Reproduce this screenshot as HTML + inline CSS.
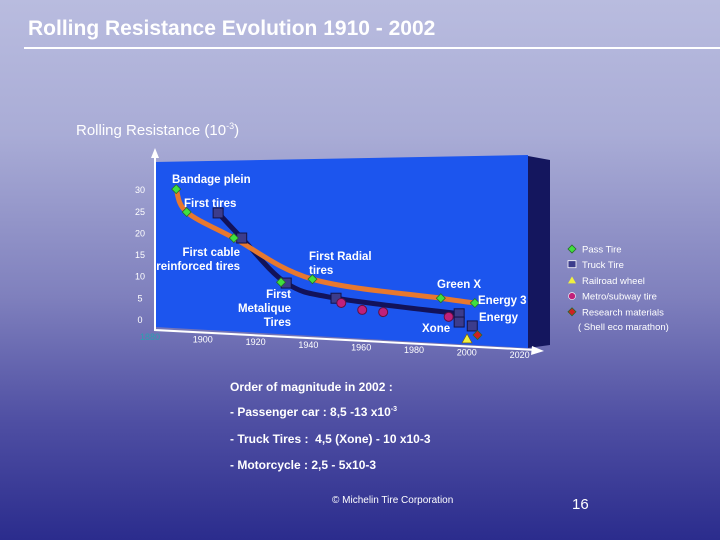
<!DOCTYPE html>
<html><head><meta charset="utf-8">
<style>
body{margin:0;}
#slide{position:relative;width:720px;height:540px;overflow:hidden;font-family:"Liberation Sans",sans-serif;color:#fff;
background:linear-gradient(180deg,#b9bcdf 0%,#a9acd6 25%,#7f80bd 55%,#4f4fa3 78%,#2b2c8d 100%);}
.t{position:absolute;white-space:nowrap;}
</style></head><body>
<div id="slide">
<div class="t" style="left:28px;top:17px;font-size:21px;font-weight:bold;">Rolling Resistance Evolution 1910 - 2002</div>
<div style="position:absolute;left:24px;top:47px;width:696px;height:2px;background:#fff;"></div>
<div class="t" style="left:76px;top:121px;font-size:15px;">Rolling Resistance (10<sup style="font-size:9px">-3</sup>)</div>
<svg id="chart" width="720" height="540" style="position:absolute;left:0;top:0"></svg>
<div class="t" style="left:230px;top:380px;font-size:12px;font-weight:bold;">Order of magnitude in 2002 :</div>
<div class="t" style="left:230px;top:405px;font-size:12px;font-weight:bold;">- Passenger car : 8,5 -13 x10<sup style="font-size:7px">-3</sup></div>
<div class="t" style="left:230px;top:432px;font-size:12px;font-weight:bold;">- Truck Tires :&nbsp; 4,5 (Xone) - 10 x10-3</div>
<div class="t" style="left:230px;top:458px;font-size:12px;font-weight:bold;">- Motorcycle : 2,5 - 5x10-3</div>
<div class="t" style="left:332px;top:495px;font-size:10px;">© Michelin Tire Corporation</div>
<div class="t" style="left:572px;top:496px;font-size:15px;">16</div>
</div>
<script>
const yTicks=[0,5,10,15,20,25,30];
const xTicks=[1880,1900,1920,1940,1960,1980,2000,2020];
const passYears=[1890,1894,1912,1930,1942,1991,2004];
const passVals=[30,24.7,18.7,8.5,9.2,4.8,3.7];
const passLineYears=[1890,1894,1912,1942,1991,2004];
const passLineVals=[30,24.7,18.7,9.2,4.8,3.7];
const truckYears=[1906,1915,1932,1951,1998,1998,2003];
const truckVals=[24.5,18.7,8.3,4.8,1.2,-0.7,-1.6];
const truckLineYears=[1906,1915,1932,1951,1998];
const truckLineVals=[24.5,18.7,8.3,4.8,1.2];
const metroYears=[1953,1961,1969,1994];
const metroVals=[3.7,2.1,1.6,0.5];
const railYears=[2001];const railVals=[-4.6];
const researchYears=[2005];const researchVals=[-3.7];

const NS="http://www.w3.org/2000/svg";
const svg=document.getElementById('chart');
function X(yr){return 150+(yr-1880)*2.62;}
function Y(v){return 319-v*4.33;}
function mk(tag,attrs,parent){const e=document.createElementNS(NS,tag);for(const k in attrs)e.setAttribute(k,attrs[k]);(parent||svg).appendChild(e);return e;}
let e=mk('polygon',{points:'528,156 550,160 550,345 528,348',fill:'#14165e'});

e=mk('polygon',{points:'155,162 528,155 528,348 155,327',fill:'#1c55ee'});

e=mk('polyline',{points:'155,152 155,330 536,350',fill:'none',stroke:'#fff','stroke-width':2});

e=mk('polygon',{points:'151,158 155,148 159,158',fill:'#fff'});

e=mk('polygon',{points:'532,346 544,351 531,355',fill:'#fff'});

yTicks.forEach(v=>{const t=mk('text',{x:140,y:Y(v)+4,'font-size':9,fill:'#fff','text-anchor':'middle'});t.textContent=v;
});
xTicks.forEach((yr,i)=>{const x=X(yr)+(yr-1880)*0.02;const t=mk('text',{x:x,y:340+(yr-1880)*0.13,'font-size':9,fill:i==0?'#2aa0b0':'#fff','text-anchor':'middle'});t.textContent=yr;
});
function smooth(xs,vs){const p=xs.map((yr,i)=>[X(yr),Y(vs[i])]);let d='M'+p[0][0]+','+p[0][1];
for(let i=0;i<p.length-1;i++){const p0=p[i-1]||p[i],p1=p[i],p2=p[i+1],p3=p[i+2]||p2;
d+=' C'+(p1[0]+(p2[0]-p0[0])/6)+','+(p1[1]+(p2[1]-p0[1])/6)+' '+(p2[0]-(p3[0]-p1[0])/6)+','+(p2[1]-(p3[1]-p1[1])/6)+' '+p2[0]+','+p2[1];}return d;}
e=mk('path',{d:smooth(truckLineYears,truckLineVals),fill:'none',stroke:'#12125a','stroke-width':5,'stroke-linecap':'round'});

e=mk('path',{d:smooth(passLineYears,passLineVals),fill:'none',stroke:'#e8782e','stroke-width':5,'stroke-linecap':'round'});

function diamond(x,y,r,fill){return mk('polygon',{points:`${x},${y-r} ${x+r},${y} ${x},${y+r} ${x-r},${y}`,fill:fill,stroke:'#2a6a2a','stroke-width':0.8});}
truckYears.forEach((yr,i)=>{const x=X(yr),y=Y(truckVals[i]);const m=mk('rect',{x:x-5,y:y-5,width:10,height:10,fill:'#3c3c8c',stroke:'#12124a','stroke-width':1});
});
passYears.forEach((yr,i)=>{const m=diamond(X(yr),Y(passVals[i]),4.5,'#3fe03f');
});
metroYears.forEach((yr,i)=>{const m=mk('circle',{cx:X(yr),cy:Y(metroVals[i]),r:4.5,fill:'#c0207a',stroke:'#601040'});
});
railYears.forEach((yr,i)=>{const x=X(yr),y=Y(railVals[i]);const m=mk('polygon',{points:`${x},${y-5} ${x+5},${y+4} ${x-5},${y+4}`,fill:'#f0f040',stroke:'#806000','stroke-width':0.6});
});
researchYears.forEach((yr,i)=>{const m=diamond(X(yr),Y(researchVals[i]),4.5,'#d02020');
});
const ann=[['Bandage plein',172,183,'start'],['First tires',184,207,'start'],['First cable',240,256,'end'],['reinforced tires',240,270,'end'],
['First Radial',309,260,'start'],['tires',309,274,'start'],['First',291,298,'end'],['Metalique',291,312,'end'],['Tires',291,326,'end'],
['Green X',437,288,'start'],['Energy 3',478,304,'start'],['Energy',479,321,'start'],['Xone',422,332,'start']];
ann.forEach(a=>{const t=mk('text',{x:a[1],y:a[2],'font-size':11.5,'font-weight':'bold',fill:'#fff','text-anchor':a[3]});t.textContent=a[0];
});
const leg=[['Pass Tire','d','#3fe03f'],['Truck Tire','s','#3c3c8c'],['Railroad wheel','t','#f0f040'],['Metro/subway tire','c','#c0207a'],['Research materials','d','#d02020']];
leg.forEach((l,i)=>{const y=249+i*15.7;let m;
if(l[1]=='d')m=diamond(572,y,4,l[2]);else if(l[1]=='s')m=mk('rect',{x:568,y:y-4,width:8,height:7,fill:l[2],stroke:'#fff','stroke-width':0.8});
else if(l[1]=='t')m=mk('polygon',{points:`572,${y-4} 576,${y+3} 568,${y+3}`,fill:l[2]});else m=mk('circle',{cx:572,cy:y,r:3.5,fill:l[2],stroke:'#fff','stroke-width':0.6});

const t=mk('text',{x:582,y:y+3.5,'font-size':9.5,fill:'#fff'});t.textContent=l[0];
});
const t=mk('text',{x:578,y:330,'font-size':9.5,fill:'#fff'});t.textContent='( Shell eco marathon)';

</script>
</body></html>
